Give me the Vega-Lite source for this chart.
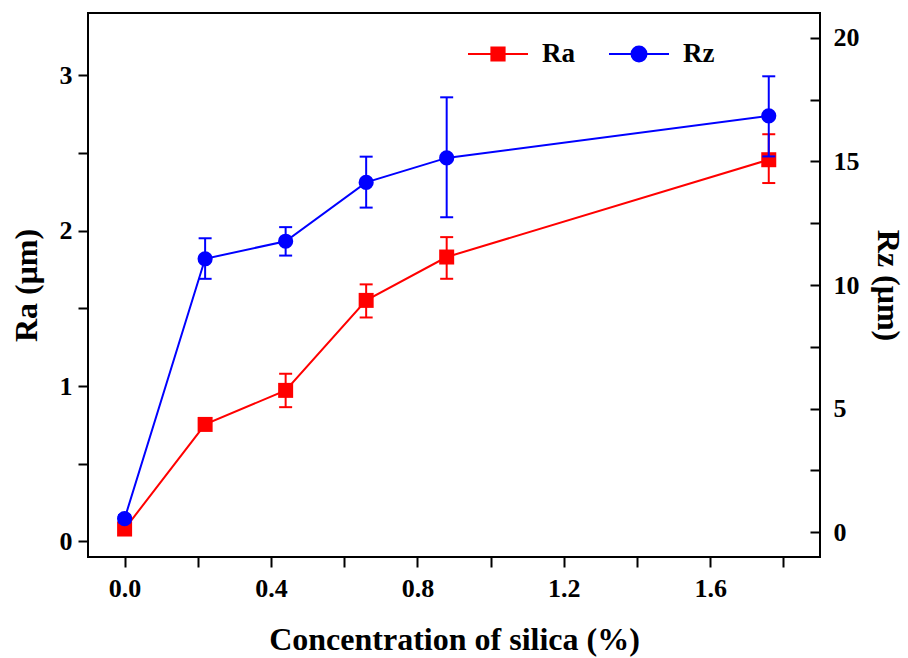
{
  "$schema": "https://vega.github.io/schema/vega-lite/v6.json",
  "width": 732,
  "height": 544,
  "autosize": "none",
  "padding": {"left": 88, "top": 13, "right": 88, "bottom": 101},
  "background": "white",
  "config": {
    "view": {"stroke": "black", "strokeWidth": 2},
    "axis": {
      "grid": false,
      "domain": false,
      "labelFont": "Liberation Serif",
      "labelFontWeight": "bold",
      "labelFontSize": 26,
      "labelColor": "black",
      "titleFont": "Liberation Serif",
      "titleFontWeight": "bold",
      "titleFontSize": 32,
      "titleColor": "black",
      "tickColor": "black",
      "tickWidth": 2,
      "tickSize": 10
    },
    "legend": {
      "orient": "none",
      "direction": "horizontal",
      "legendX": 379,
      "legendY": 10,
      "padding": 0,
      "labelFont": "Liberation Serif",
      "labelFontWeight": "bold",
      "labelFontSize": 27,
      "labelColor": "black",
      "labelOffset": 13,
      "columnPadding": 30,
      "symbolSize": 3600,
      "symbolStrokeWidth": 2
    }
  },
  "data": {
    "values": [
      {"x": 0.0, "Ra": 0.08, "Ra_lo": 0.06, "Ra_hi": 0.1, "Rz": 0.55, "Rz_lo": 0.4, "Rz_hi": 0.7},
      {"x": 0.22, "Ra": 0.753, "Ra_lo": 0.725, "Ra_hi": 0.78, "Rz": 11.06, "Rz_lo": 10.25, "Rz_hi": 11.89},
      {"x": 0.44, "Ra": 0.972, "Ra_lo": 0.864, "Ra_hi": 1.079, "Rz": 11.77, "Rz_lo": 11.19, "Rz_hi": 12.34},
      {"x": 0.66, "Ra": 1.551, "Ra_lo": 1.441, "Ra_hi": 1.654, "Rz": 14.15, "Rz_lo": 13.13, "Rz_hi": 15.19},
      {"x": 0.88, "Ra": 1.83, "Ra_lo": 1.69, "Ra_hi": 1.958, "Rz": 15.14, "Rz_lo": 12.74, "Rz_hi": 17.59},
      {"x": 1.76, "Ra": 2.456, "Ra_lo": 2.306, "Ra_hi": 2.62, "Rz": 16.84, "Rz_lo": 15.2, "Rz_hi": 18.44}
    ]
  },
  "encoding": {
    "x": {
      "field": "x",
      "type": "quantitative",
      "scale": {"domain": [-0.1, 1.9], "nice": false, "zero": false},
      "axis": {
        "title": "Concentration of silica (%)",
        "values": [0, 0.2, 0.4, 0.6, 0.8, 1.0, 1.2, 1.4, 1.6, 1.8],
        "labelExpr": "(round(datum.value * 10) % 4 == 0) ? format(datum.value, '.1f') : ''",
        "labelPadding": 8,
        "titlePadding": 23
      }
    }
  },
  "layer": [
    {
      "layer": [
        {
          "mark": {"type": "rule", "color": "#ff0000", "strokeWidth": 2},
          "encoding": {
            "y": {"field": "Ra_lo", "type": "quantitative", "scale": {"domain": [-0.1, 3.4], "nice": false, "zero": false}},
            "y2": {"field": "Ra_hi"}
          }
        },
        {
          "mark": {"type": "tick", "orient": "horizontal", "color": "#ff0000", "size": 13, "thickness": 2, "opacity": 1},
          "encoding": {"y": {"field": "Ra_lo", "type": "quantitative"}}
        },
        {
          "mark": {"type": "tick", "orient": "horizontal", "color": "#ff0000", "size": 13, "thickness": 2, "opacity": 1},
          "encoding": {"y": {"field": "Ra_hi", "type": "quantitative"}}
        },
        {
          "mark": {"type": "line", "color": "#ff0000", "strokeWidth": 2},
          "encoding": {
            "y": {
              "field": "Ra",
              "type": "quantitative",
              "axis": {
                "orient": "left",
                "title": "Ra (μm)",
                "values": [0, 0.5, 1, 1.5, 2, 2.5, 3],
                "labelExpr": "(datum.value % 1 == 0) ? format(datum.value, 'd') : ''",
                "labelPadding": 6,
                "titlePadding": 16
              }
            }
          }
        },
        {
          "mark": {"type": "point", "shape": "square", "filled": true, "size": 225, "opacity": 1},
          "encoding": {
            "y": {"field": "Ra", "type": "quantitative"},
            "color": {
              "datum": "Ra",
              "scale": {"domain": ["Ra", "Rz"], "range": ["#ff0000", "#0000ff"]},
              "legend": {
                "title": null,
                "symbolType": {"expr": "datum.value === 'Ra' ? 'M-1,0H-0.22M0.22,0H1M-0.22,-0.22H0.22V0.22H-0.22Z' : 'M-1,0H-0.25M0.25,0H1M0.25,0A0.25,0.25 0 1,1 -0.25,0A0.25,0.25 0 1,1 0.25,0Z'"},
                "symbolStrokeColor": {"expr": "datum.value === 'Ra' ? '#ff0000' : '#0000ff'"}
              }
            }
          }
        }
      ]
    },
    {
      "layer": [
        {
          "mark": {"type": "rule", "color": "#0000ff", "strokeWidth": 2},
          "encoding": {
            "y": {"field": "Rz_lo", "type": "quantitative", "scale": {"domain": [-1, 21], "nice": false, "zero": false}},
            "y2": {"field": "Rz_hi"}
          }
        },
        {
          "mark": {"type": "tick", "orient": "horizontal", "color": "#0000ff", "size": 13, "thickness": 2, "opacity": 1},
          "encoding": {"y": {"field": "Rz_lo", "type": "quantitative"}}
        },
        {
          "mark": {"type": "tick", "orient": "horizontal", "color": "#0000ff", "size": 13, "thickness": 2, "opacity": 1},
          "encoding": {"y": {"field": "Rz_hi", "type": "quantitative"}}
        },
        {
          "mark": {"type": "line", "color": "#0000ff", "strokeWidth": 2},
          "encoding": {
            "y": {
              "field": "Rz",
              "type": "quantitative",
              "axis": {
                "orient": "right",
                "title": "Rz (μm)",
                "values": [0, 2.5, 5, 7.5, 10, 12.5, 15, 17.5, 20],
                "labelExpr": "(datum.value % 5 == 0) ? format(datum.value, 'd') : ''",
                "tickSize": -10,
                "labelPadding": 23,
                "titlePadding": 11
              }
            }
          }
        },
        {
          "mark": {"type": "point", "shape": "circle", "filled": true, "size": 230, "opacity": 1},
          "encoding": {
            "y": {"field": "Rz", "type": "quantitative"},
            "color": {
              "datum": "Rz",
              "legend": {
                "title": null,
                "symbolType": {"expr": "datum.value === 'Ra' ? 'M-1,0H-0.22M0.22,0H1M-0.22,-0.22H0.22V0.22H-0.22Z' : 'M-1,0H-0.25M0.25,0H1M0.25,0A0.25,0.25 0 1,1 -0.25,0A0.25,0.25 0 1,1 0.25,0Z'"},
                "symbolStrokeColor": {"expr": "datum.value === 'Ra' ? '#ff0000' : '#0000ff'"}
              }
            }
          }
        }
      ]
    }
  ],
  "resolve": {"scale": {"y": "independent"}, "axis": {"y": "independent"}}
}
